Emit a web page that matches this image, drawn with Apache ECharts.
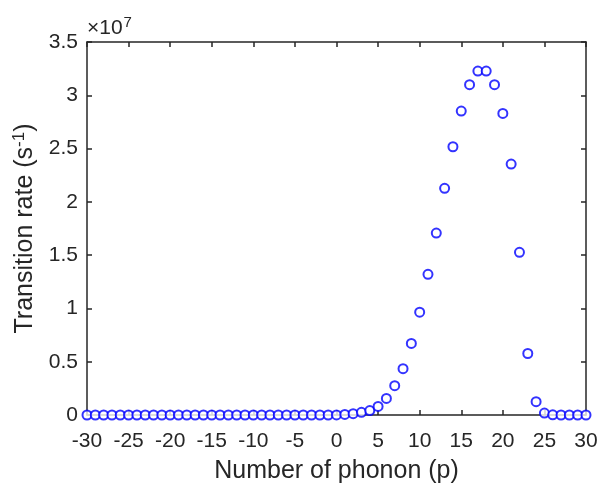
<!DOCTYPE html>
<html>
<head>
<meta charset="utf-8">
<script src="https://cdn.jsdelivr.net/npm/echarts@6/dist/echarts.min.js"></script>
<style>
  html, body { margin: 0; padding: 0; background: #fff; }
  #chart { width: 599px; height: 485px; }
</style>
</head>
<body>
<div id="chart"></div>
<script>
// 声子数 p = -30 .. 30
var phonon = [];
for (var p = -30; p <= 30; p++) phonon.push(p);

// 跃迁速率 (x1e7 s^-1)
var rate = [
  0, 0, 0, 0, 0, 0, 0, 0, 0, 0,          // -30 .. -21
  0, 0, 0, 0, 0, 0, 0, 0, 0, 0,          // -20 .. -11
  0, 0, 0, 0, 0, 0, 0, 0, 0, 0,          // -10 .. -1
  0.001, 0.005, 0.012, 0.025, 0.042,     // 0 .. 4
  0.08, 0.155, 0.275, 0.435, 0.672,      // 5 .. 9
  0.965, 1.32, 1.707, 2.127, 2.517,      // 10 .. 14
  2.852, 3.10, 3.227, 3.227, 3.10,       // 15 .. 19
  2.83, 2.355, 1.526, 0.577, 0.125,      // 20 .. 24
  0.018, 0.002, 0, 0, 0, 0               // 25 .. 30
];

var pts = [];
for (var i = 0; i < phonon.length; i++) {
  pts.push([phonon[i], rate[i]]);
}

var axisColor = '#262626';
var font = 'Liberation Sans, Arial, sans-serif';

function frameAxis(extra) {
  var a = {
    type: 'value',
    axisLine: { show: true, onZero: false, lineStyle: { color: axisColor, width: 1.5 } },
    axisTick: { show: true, inside: true, length: 5, lineStyle: { color: axisColor, width: 1.5 } },
    axisLabel: { show: false },
    splitLine: { show: false }
  };
  for (var k in extra) a[k] = extra[k];
  return a;
}

var chart = echarts.init(document.getElementById('chart'));
var option = {
  animation: false,
  grid: { left: 87, right: 13, top: 42, bottom: 70, containLabel: false, outerBoundsMode: 'none' },
  graphic: [{
    type: 'text',
    left: 87, top: 15,
    style: {
      text: '×10{s|7}',
      font: '21px ' + font,
      fill: axisColor,
      rich: { s: { fontSize: 15, verticalAlign: 'top', padding: [0, 0, 12, 1], fill: axisColor } }
    }
  }],
  xAxis: [
    frameAxis({
      min: -30, max: 30, interval: 5,
      name: 'Number of phonon (p)',
      nameLocation: 'middle',
      nameGap: 44,
      nameTextStyle: { fontSize: 25, color: axisColor, fontFamily: font },
      axisLabel: { show: true, fontSize: 21, color: axisColor, fontFamily: font, margin: 16 }
    }),
    frameAxis({ position: 'top', min: -30, max: 30, interval: 5 })
  ],
  yAxis: [
    frameAxis({
      min: 0, max: 3.5, interval: 0.5,
      name: 'Transition rate (s{sup|-1})',
      nameLocation: 'middle',
      nameGap: 46,
      nameTextStyle: {
        fontSize: 25, color: axisColor, fontFamily: font,
        rich: { sup: { fontSize: 17, verticalAlign: 'top', padding: [0, 0, 12, 0], color: axisColor, fontFamily: font } }
      },
      axisLabel: { show: true, fontSize: 21, color: axisColor, fontFamily: font, margin: 9 }
    }),
    frameAxis({ position: 'right', min: 0, max: 3.5, interval: 0.5 })
  ],
  series: [{
    type: 'scatter',
    data: pts,
    symbol: 'emptyCircle',
    symbolSize: 9,
    clip: false,
    itemStyle: { color: '#0000ff', borderColor: '#0000ff', borderWidth: 1.2 }
  }]
};
chart.setOption(option);
</script>
</body>
</html>
